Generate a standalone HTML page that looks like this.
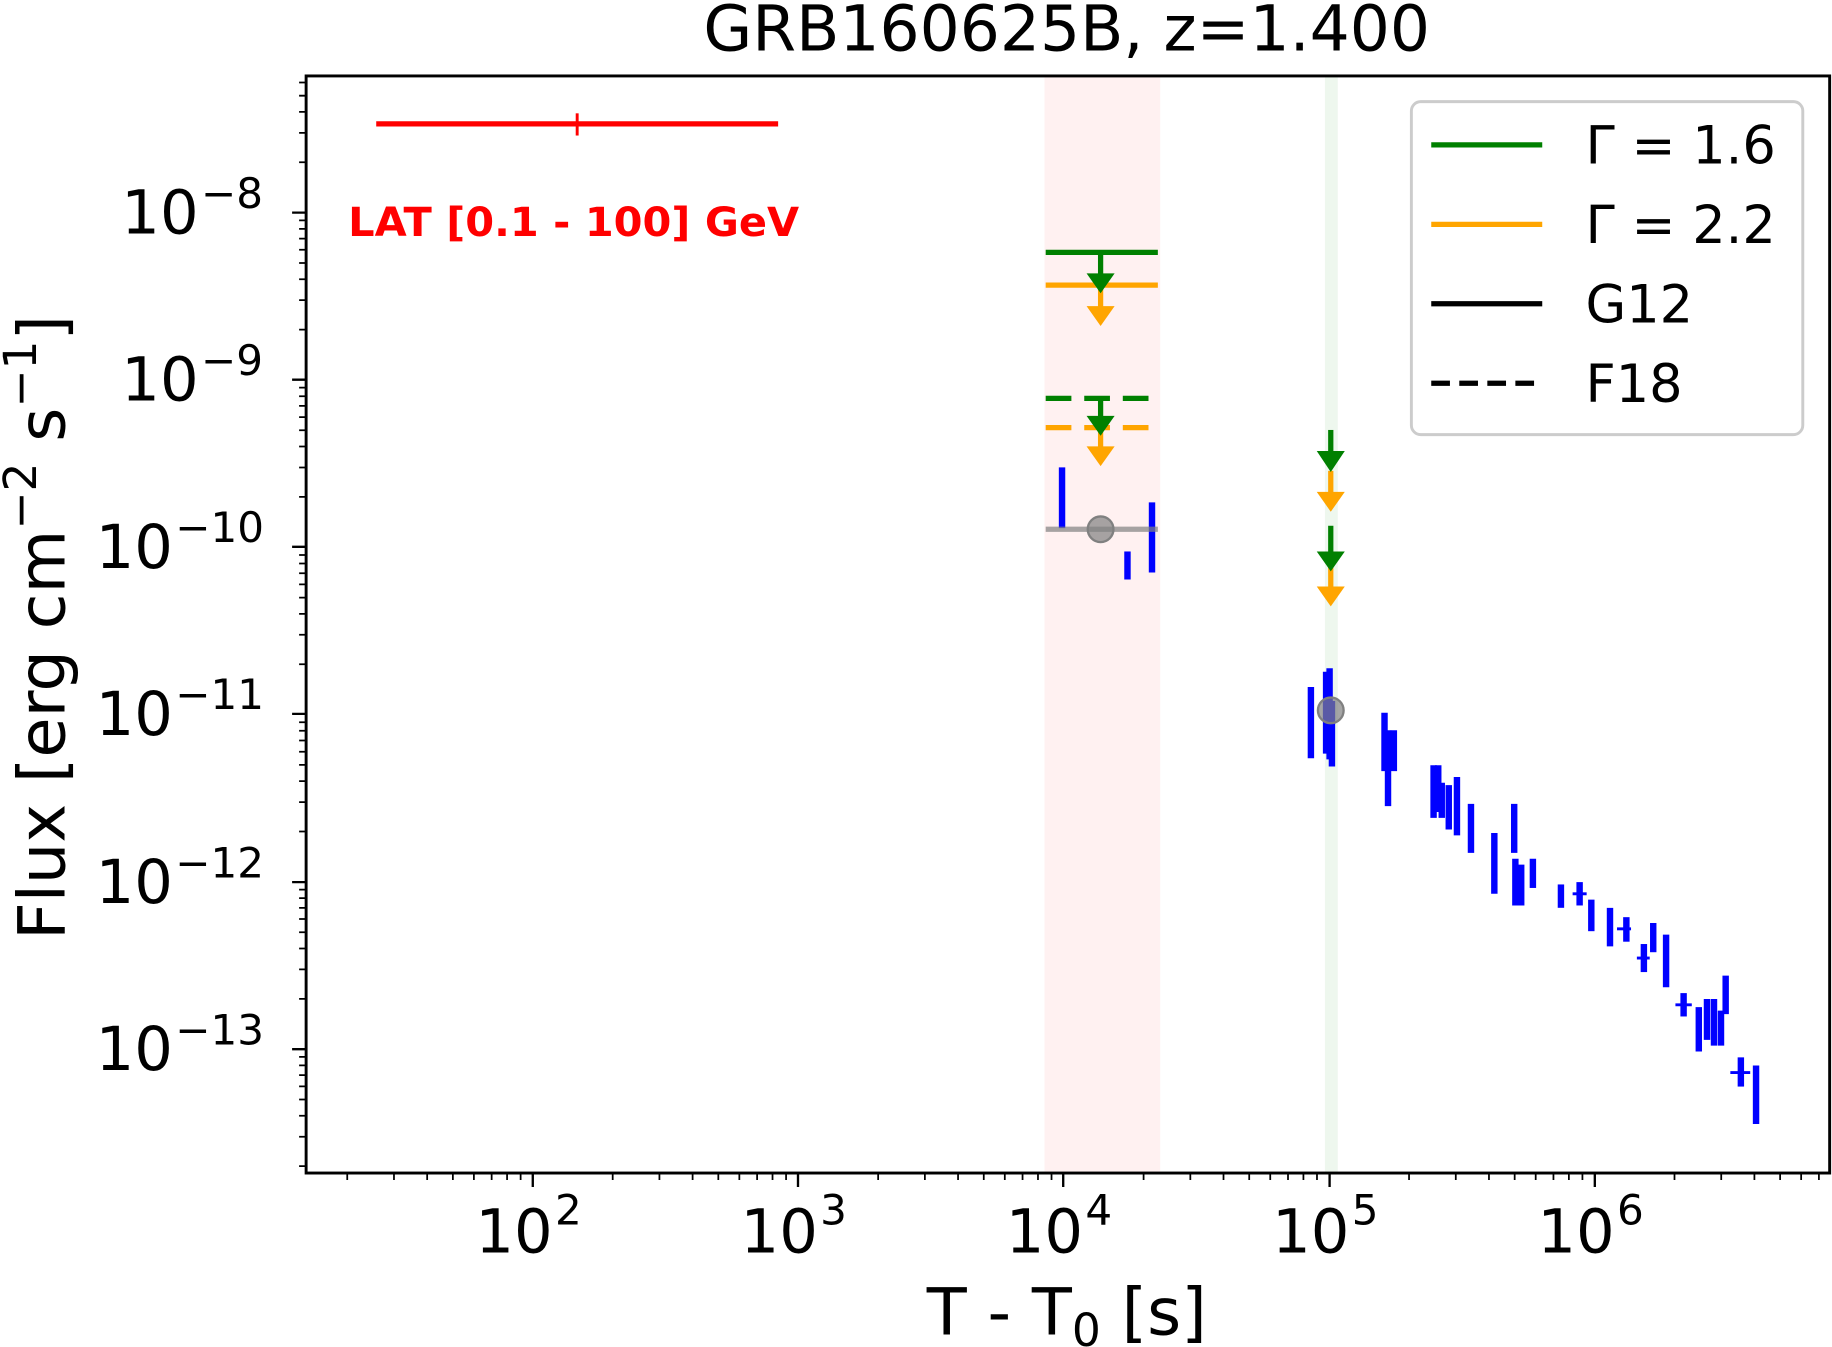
<!DOCTYPE html>
<html><head><meta charset="utf-8"><style>html,body{margin:0;padding:0;background:#fff}svg{display:block}</style></head>
<body>
<svg width="1832" height="1347" viewBox="0 0 1568 1152.9" xmlns="http://www.w3.org/2000/svg" font-family="DejaVu Sans, Liberation Sans, sans-serif">
<rect x="0" y="0" width="1568" height="1153" fill="#fff"/>
<rect x="894" y="65" width="99" height="939" fill="#fff1f1"/>
<rect x="1134" y="65" width="11" height="939" fill="#eef7ee"/>
<line x1="322" y1="106" x2="666" y2="106" stroke="#ff0000" stroke-width="4.5"/>
<line x1="494" y1="97" x2="494" y2="116" stroke="#ff0000" stroke-width="2.5"/>
<text x="298" y="202" font-size="34" font-weight="bold" fill="#ff0000" textLength="386" lengthAdjust="spacingAndGlyphs">LAT [0.1 - 100] GeV</text>
<g stroke-width="4.5">
<line x1="895" y1="216" x2="991" y2="216" stroke="#008000"/>
<line x1="895" y1="244" x2="991" y2="244" stroke="#ffa500"/>
<line x1="895" y1="341" x2="991" y2="341" stroke="#008000" stroke-dasharray="22,11"/>
<line x1="895" y1="366" x2="991" y2="366" stroke="#ffa500" stroke-dasharray="22,11"/>
<line x1="942" y1="216" x2="942" y2="236" stroke="#008000"/>
<line x1="942" y1="244" x2="942" y2="264" stroke="#ffa500"/>
<line x1="942" y1="341" x2="942" y2="358" stroke="#008000"/>
<line x1="942" y1="366" x2="942" y2="384" stroke="#ffa500"/>
<line x1="1139" y1="368" x2="1139" y2="388" stroke="#008000"/>
<line x1="1139" y1="403" x2="1139" y2="423" stroke="#ffa500"/>
<line x1="1139" y1="450" x2="1139" y2="474" stroke="#008000"/>
<line x1="1139" y1="480" x2="1139" y2="504" stroke="#ffa500"/>
</g>
<g>
<polygon points="930,234 954,234 942,251" fill="#008000"/>
<polygon points="930,262 954,262 942,279" fill="#ffa500"/>
<polygon points="930,356 954,356 942,373" fill="#008000"/>
<polygon points="930,382 954,382 942,399" fill="#ffa500"/>
<polygon points="1127,386 1151,386 1139,404" fill="#008000"/>
<polygon points="1127,421 1151,421 1139,438" fill="#ffa500"/>
<polygon points="1127,472 1151,472 1139,489" fill="#008000"/>
<polygon points="1127,502 1151,502 1139,519" fill="#ffa500"/>
</g>
<g stroke="#0000ff" stroke-width="5.5">
<line x1="909" y1="400" x2="909" y2="452"/>
<line x1="965" y1="472" x2="965" y2="496"/>
<line x1="986" y1="430" x2="986" y2="490"/>
<line x1="1122" y1="588" x2="1122" y2="649"/>
<line x1="1135" y1="575" x2="1135" y2="645"/>
<line x1="1138" y1="572" x2="1138" y2="650"/>
<line x1="1140" y1="600" x2="1140" y2="656"/>
<line x1="1185" y1="610" x2="1185" y2="660"/>
<line x1="1188" y1="625" x2="1188" y2="690"/>
<line x1="1193" y1="625" x2="1193" y2="660"/>
<line x1="1227" y1="655" x2="1227" y2="700"/>
<line x1="1231" y1="655" x2="1231" y2="695"/>
<line x1="1234" y1="670" x2="1234" y2="700"/>
<line x1="1240" y1="672" x2="1240" y2="710"/>
<line x1="1247" y1="665" x2="1247" y2="715"/>
<line x1="1259" y1="688" x2="1259" y2="730"/>
<line x1="1279" y1="713" x2="1279" y2="765"/>
<line x1="1296" y1="688" x2="1296" y2="730"/>
<line x1="1297" y1="735" x2="1297" y2="775"/>
<line x1="1302" y1="740" x2="1302" y2="775"/>
<line x1="1312" y1="735" x2="1312" y2="760"/>
<line x1="1336" y1="757" x2="1336" y2="777"/>
<line x1="1352" y1="755" x2="1352" y2="775"/>
<line x1="1362" y1="770" x2="1362" y2="797"/>
<line x1="1378" y1="777" x2="1378" y2="810"/>
<line x1="1392" y1="785" x2="1392" y2="806"/>
<line x1="1407" y1="808" x2="1407" y2="832"/>
<line x1="1415" y1="790" x2="1415" y2="815"/>
<line x1="1426" y1="800" x2="1426" y2="845"/>
<line x1="1441" y1="850" x2="1441" y2="870"/>
<line x1="1454" y1="862" x2="1454" y2="900"/>
<line x1="1461" y1="855" x2="1461" y2="890"/>
<line x1="1467" y1="855" x2="1467" y2="895"/>
<line x1="1473" y1="865" x2="1473" y2="895"/>
<line x1="1477" y1="835" x2="1477" y2="868"/>
<line x1="1490" y1="905" x2="1490" y2="930"/>
<line x1="1503" y1="912" x2="1503" y2="962"/>
</g>
<g stroke="#0000ff" stroke-width="2.5">
<line x1="1346" y1="765" x2="1358" y2="765"/>
<line x1="1384" y1="795" x2="1396" y2="795"/>
<line x1="1434" y1="860" x2="1448" y2="860"/>
<line x1="1481" y1="918" x2="1498" y2="918"/>
<line x1="1401" y1="820" x2="1412" y2="820"/>
</g>
<line x1="895" y1="453" x2="991" y2="453" stroke="#808080" stroke-opacity="0.7" stroke-width="4.5"/>
<circle cx="942" cy="453" r="11" fill="#808080" fill-opacity="0.7" stroke="#808080" stroke-width="2"/>
<circle cx="1139" cy="608" r="11" fill="#808080" fill-opacity="0.7" stroke="#808080" stroke-width="2"/>
<rect x="1208" y="87" width="335" height="285" rx="8" fill="#fff" fill-opacity="0.8" stroke="#cccccc" stroke-width="2.5"/>
<g stroke-width="4.5">
<line x1="1225" y1="124" x2="1320" y2="124" stroke="#008000"/>
<line x1="1225" y1="192" x2="1320" y2="192" stroke="#ffa500"/>
<line x1="1225" y1="260" x2="1320" y2="260" stroke="#000"/>
<line x1="1225" y1="328" x2="1320" y2="328" stroke="#000" stroke-dasharray="16,8"/>
</g>
<g font-size="45" fill="#000">
<text x="1357" y="140">Γ = 1.6</text>
<text x="1357" y="208">Γ = 2.2</text>
<text x="1357" y="276">G12</text>
<text x="1357" y="344">F18</text>
</g>
<rect x="262" y="65" width="1304" height="939" fill="none" stroke="#000" stroke-width="2.5"/>
<g font-size="52" fill="#000">
<text x="170" y="200" text-anchor="end">10</text><text x="172" y="178" font-size="36">−8</text>
<text x="170" y="343" text-anchor="end">10</text><text x="172" y="321" font-size="36">−9</text>
<text x="148" y="486" text-anchor="end">10</text><text x="150" y="464" font-size="36">−10</text>
<text x="148" y="629" text-anchor="end">10</text><text x="150" y="607" font-size="36">−11</text>
<text x="148" y="773" text-anchor="end">10</text><text x="150" y="751" font-size="36">−12</text>
<text x="148" y="916" text-anchor="end">10</text><text x="150" y="894" font-size="36">−13</text>
<text x="473" y="1072" text-anchor="end">10</text><text x="475" y="1048" font-size="36">2</text>
<text x="700" y="1072" text-anchor="end">10</text><text x="702" y="1048" font-size="36">3</text>
<text x="927" y="1072" text-anchor="end">10</text><text x="929" y="1048" font-size="36">4</text>
<text x="1155" y="1072" text-anchor="end">10</text><text x="1157" y="1048" font-size="36">5</text>
<text x="1382" y="1072" text-anchor="end">10</text><text x="1384" y="1048" font-size="36">6</text>
</g>
<text x="913" y="43" font-size="54" text-anchor="middle">GRB160625B, z=1.400</text>
<text x="913" y="1142" font-size="56" text-anchor="middle">T - T<tspan font-size="39" dy="10">0</tspan><tspan dy="-10"> [s]</tspan></text>
<text transform="translate(55,537) rotate(-90)" font-size="56" text-anchor="middle">Flux [erg cm<tspan font-size="39" dy="-24">−2</tspan><tspan dy="24"> s</tspan><tspan font-size="39" dy="-24">−1</tspan><tspan dy="24">]</tspan></text>
<g stroke="#000" stroke-width="2">
<path d="
M456,1004 v12 M683,1004 v12 M910,1004 v12 M1138,1004 v12 M1365,1004 v12
M262,182 h-12 M262,325 h-12 M262,468 h-12 M262,611 h-12 M262,755 h-12 M262,898 h-12
"/>
</g>
<g stroke="#000" stroke-width="1.5" id="minor"></g>
<script>
var g=document.getElementById('minor'),d='';
var ns='http://www.w3.org/2000/svg';
for(var e=1;e<=6;e++){for(var m=2;m<=9;m++){var lx=e+Math.log10(m);var x=456+(lx-2)*227.2;if(x>262&&x<1566)d+='M'+x.toFixed(1)+',1004 v6 ';}}
for(var e=-14;e<=-7;e++){for(var m=2;m<=9;m++){var ly=e+Math.log10(m);var y=182+(-8-ly)*143.2;if(y>65&&y<1004)d+='M262,'+y.toFixed(1)+' h-6 ';}}
var p=document.createElementNS(ns,'path');p.setAttribute('d',d);g.appendChild(p);
</script>
</svg>
</body></html>
